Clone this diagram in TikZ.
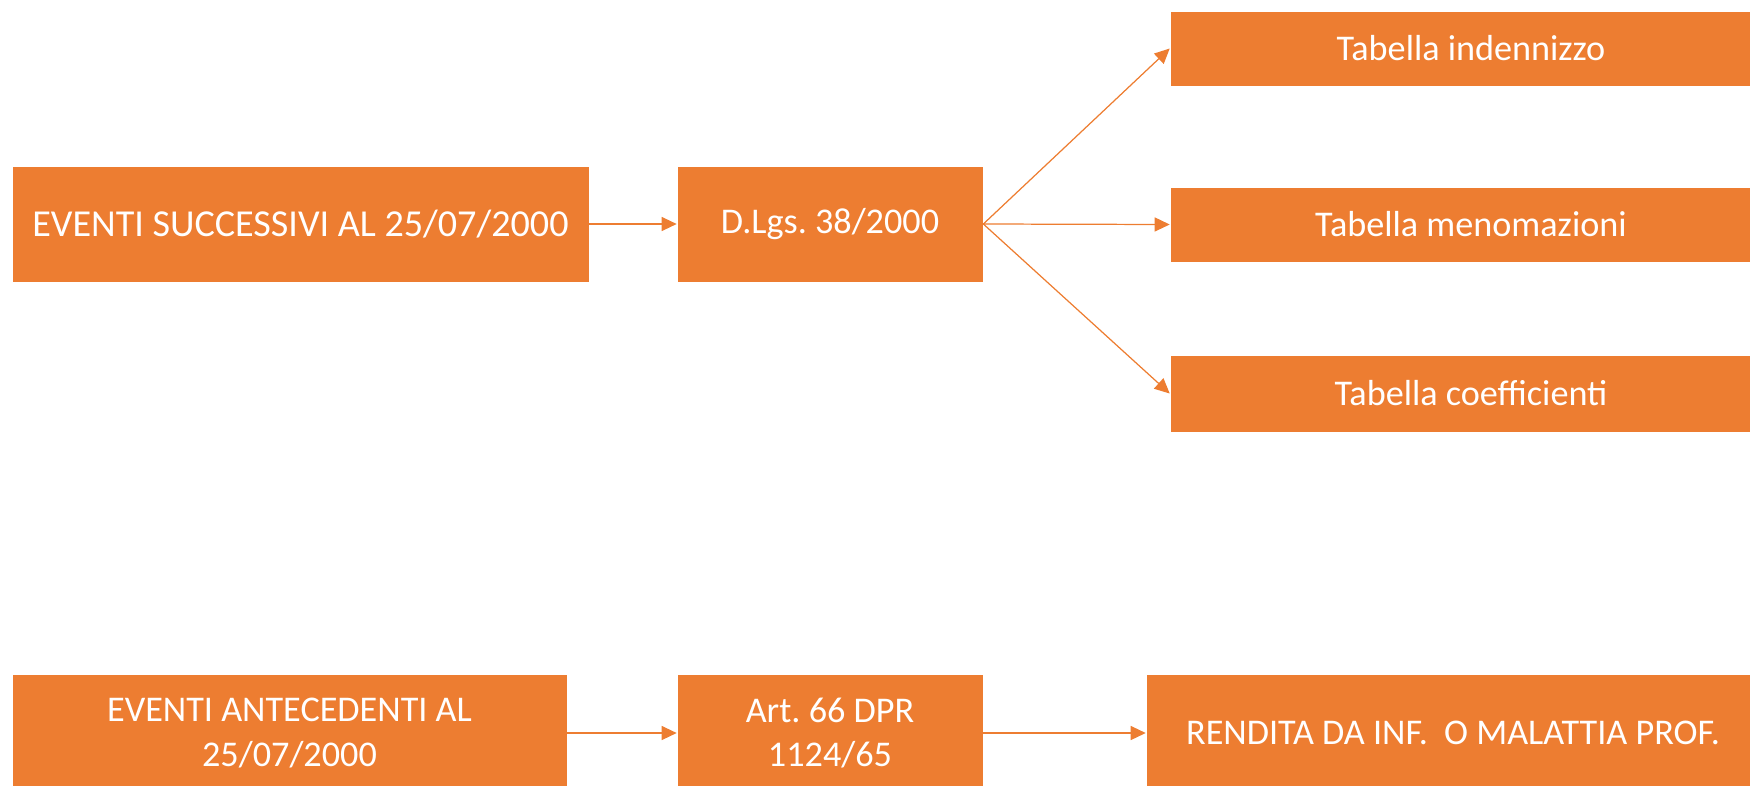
\documentclass[tikz,border=0pt]{standalone}
\usepackage{fontspec}
\setmainfont{Carlito}
\usetikzlibrary{arrows.meta,positioning}
\definecolor{accent}{HTML}{ED7D31}
\frenchspacing

\begin{document}
\begin{tikzpicture}[x=0.02cm,y=-0.02cm,>={Triangle[length=0.3cm,width=0.28cm]},
	every node/.style={font=\fontsize{20.6}{25.3}\selectfont,text=white,align=center},
	box/.style={fill=accent,draw=white,line width=0.4pt,inner sep=0pt},
	link/.style={->,color=accent,line width=0.7pt}]
	\clip (0,0) rectangle (1750,785);
	\useasboundingbox (0,0) rectangle (1750,785);

	\node[box,minimum width=11.54cm,minimum height=2.32cm,font=\fontsize{21.7}{26}\selectfont] (evS) at (300.5,224) {EVENTI SUCCESSIVI AL 25/07/2000};
	\node[box,minimum width=6.12cm,minimum height=2.32cm] (dlgs) at (830,224) {D.Lgs. 38/2000};
	\node[box,minimum width=12.04cm,minimum height=1.5cm] (tInd) at (1471,48.5) {Tabella indennizzo};
	\node[box,minimum width=12.04cm,minimum height=1.5cm] (tMen) at (1471,224.5) {Tabella menomazioni};
	\node[box,minimum width=12.04cm,minimum height=1.54cm] (tCoef) at (1471,393.5) {Tabella coefficienti};

	\node[box,minimum width=11.1cm,minimum height=2.36cm] (evA) at (289.5,733) {EVENTI ANTECEDENTI AL\\25/07/2000};
	\node[box,minimum width=6.12cm,minimum height=2.36cm] (art) at (830,733) {Art. 66 DPR\\1124/65};
	\node[box,minimum width=12.28cm,minimum height=2.36cm] (rend) at (1453,733) {RENDITA DA INF.\ \ O MALATTIA PROF.};

	\path[link]
	(evS) edge (dlgs)
	(dlgs.east) edge (tInd.west)
	(dlgs.east) edge (tMen.west)
	(dlgs.east) edge (tCoef.west)
	(evA) edge (art)
	(art) edge (rend)
	;
\end{tikzpicture}
\end{document}
